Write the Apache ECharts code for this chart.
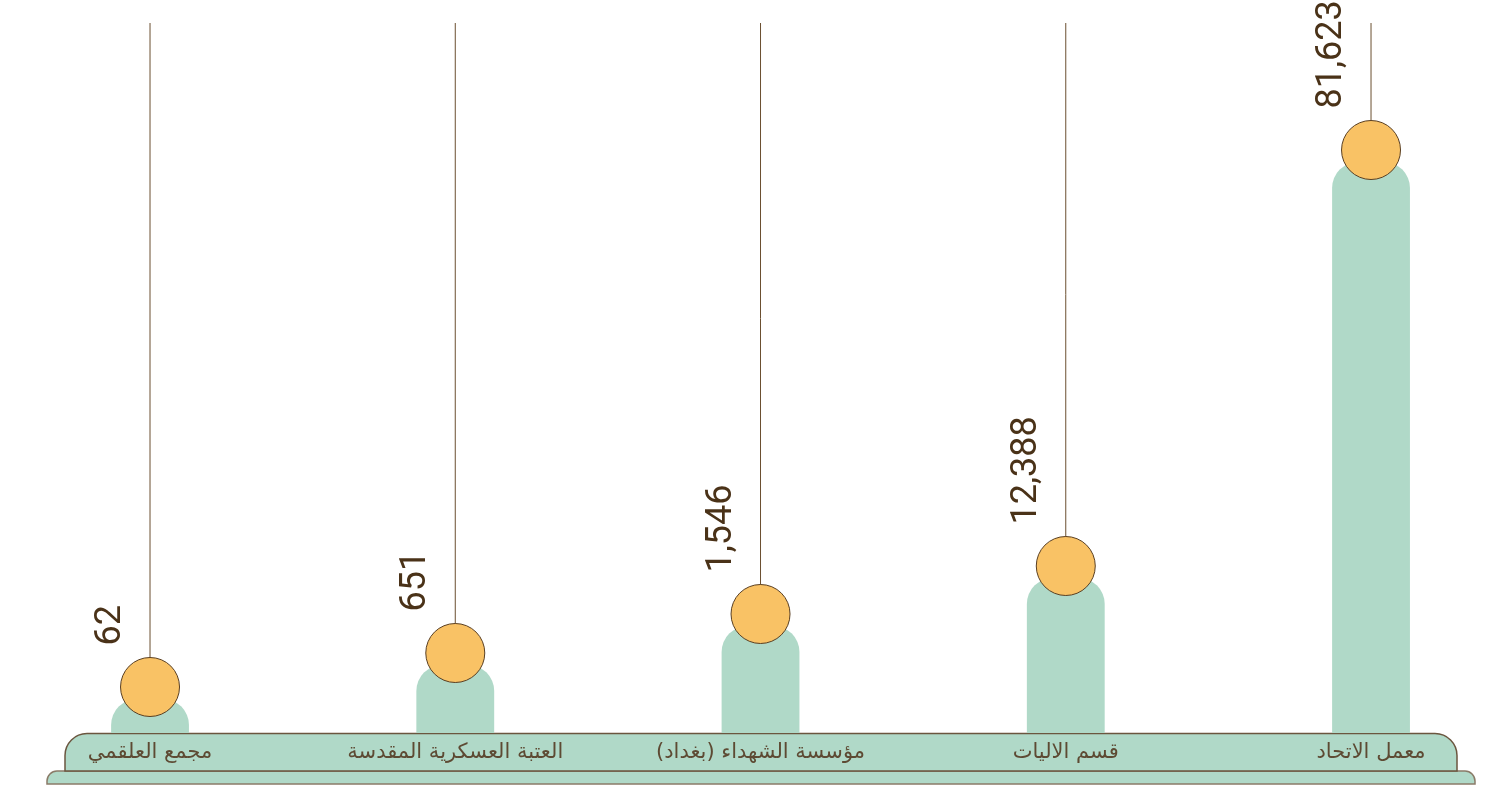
<!DOCTYPE html>
<html>
<head>
<meta charset="utf-8">
<script src="https://cdn.jsdelivr.net/npm/echarts@6/dist/echarts.min.js"></script>
<style>
html,body{margin:0;padding:0;background:#fff;}
#chart{width:1489px;height:790px;}
</style>
</head>
<body>
<div id="chart"></div>
<script>
// Categories (Arabic, as in the reference)
const categories = ['مجمع العلقمي', 'العتبة العسكرية المقدسة', 'مؤسسة الشهداء (بغداد)', 'قسم الاليات', 'معمل الاتحاد'];
// Values printed on the chart
const values = [62, 651, 1546, 12388, 81623];
// Plotted level of each marker (the infographic is not to scale)
const plotLevels = [46, 80, 119, 167, 583];
const yMax = 710;

const fmt = v => v.toLocaleString('en-US');

const chart = echarts.init(document.getElementById('chart'), null, {renderer: 'canvas'});

const option = {
  backgroundColor: '#ffffff',
  animation: false,
  grid: {left: -2.6, width: 1526.25, top: 23, height: 710, containLabel: false, outerBoundsMode: 'none'},
  xAxis: {
    type: 'category',
    data: categories,
    boundaryGap: true,
    axisLine: {show: false},
    axisTick: {show: false},
    axisLabel: {
      show: true, margin: 9, fontSize: 21,
      fontFamily: 'DejaVu Sans', color: '#5d4a33',
      verticalAlign: 'top', interval: 0
    },
    z: 10
  },
  yAxis: {type: 'value', min: 0, max: yMax, show: false, splitLine: {show: false}},
  graphic: [
    {type: 'rect', z: -5, shape: {x: 47, y: 771, width: 1428, height: 13, r: [10, 10, 0, 0]},
     style: {fill: '#B0D9C8', stroke: '#8a7b68', lineWidth: 1.5}},
    {type: 'rect', z: -4, shape: {x: 65, y: 733.5, width: 1392, height: 37.5, r: [22, 22, 0, 0]},
     style: {fill: '#B0D9C8', stroke: '#6b563f', lineWidth: 1.5}}
  ],
  series: [{
    type: 'custom',
    data: plotLevels.map((v, i) => [i, v, values[i]]),
    renderItem: function (params, api) {
      const i = api.value(0), v = api.value(1), label = api.value(2);
      const c = api.coord([i, v]);
      const base = api.coord([i, 0]);
      const top = api.coord([i, yMax]);
      const bw = api.size([1, 0])[0] * 0.255;
      const r = 29.5;
      return {
        type: 'group',
        children: [
          {type: 'rect', shape: {x: c[0] - bw / 2, y: c[1] + 12, width: bw, height: base[1] - c[1] - 12, r: [26, 26, 0, 0]},
           style: {fill: '#B0D9C8'}},
          {type: 'line', shape: {x1: c[0], y1: top[1], x2: c[0], y2: c[1]},
           style: {stroke: '#6b4f30', lineWidth: 1}},
          {type: 'circle', shape: {cx: c[0], cy: c[1], r: r},
           style: {fill: '#F9C265', stroke: '#5a3f22', lineWidth: 1}},
          {type: 'text', x: c[0] - 39, y: c[1] - r - 12, rotation: Math.PI / 2,
           style: {text: fmt(label), align: 'left', verticalAlign: 'middle',
                   font: '36px "Liberation Sans Narrow", Roboto, sans-serif', fill: '#4a3218'}}
        ]
      };
    }
  }]
};
chart.setOption(option);
</script>
</body>
</html>
